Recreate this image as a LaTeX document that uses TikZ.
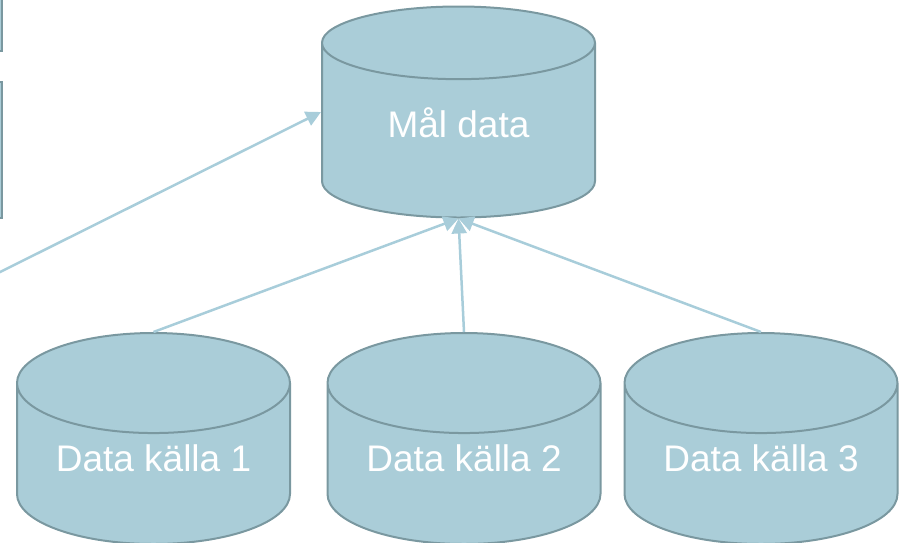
\documentclass[tikz,border=0pt]{standalone}
\usepackage{fontspec}
\setmainfont{Liberation Sans}
\usetikzlibrary{shapes.geometric,arrows.meta}

\definecolor{dbfill}{RGB}{170,205,216}
\definecolor{dbline}{RGB}{122,152,160}
\definecolor{linkcol}{RGB}{168,205,218}

\begin{document}
\begin{tikzpicture}[x=1pt, y=-1pt,
  db/.style={cylinder, shape border rotate=90, aspect=0.512, draw=dbline, line width=2pt,
    fill=dbfill, text=white, minimum width=273pt, minimum height=211pt, inner sep=0pt,
    text height=27pt, text depth=13pt, font=\fontsize{37}{40}\selectfont},
  sidebox/.style={draw=dbline, line width=2pt, fill=dbfill},
  link/.style={draw=linkcol, line width=2.5pt, -{Triangle[length=15pt,width=15pt]}}]

\useasboundingbox (0,0) rectangle (905,542);
\clip (0,0) rectangle (905,542);

% Boxes cut off at the left edge
\node[sidebox, minimum width=150pt, minimum height=110pt, anchor=south east] (boxa) at (3,52) {};
\node[sidebox, minimum width=150pt, minimum height=136pt, anchor=south east] (boxb) at (3,219) {};

% Target database
\node[db, anchor=shape center] (maal) at (458.5,112) {Mål data};

% Source databases
\node[db, anchor=shape center] (dka) at (153.5,438.5) {Data källa 1};
\node[db, anchor=shape center] (dkb) at (464,438.5) {Data källa 2};
\node[db, anchor=shape center] (dkc) at (761,438.5) {Data källa 3};

% Links into the target
\coordinate (offleft) at (-30,287);
\draw[link] (offleft) -- (maal.shape center -| maal.west);
\draw[link] (dka.top) -- (maal.bottom);
\draw[link] (dkb.top) -- (maal.bottom);
\draw[link] (dkc.top) -- (maal.bottom);

\end{tikzpicture}
\end{document}
